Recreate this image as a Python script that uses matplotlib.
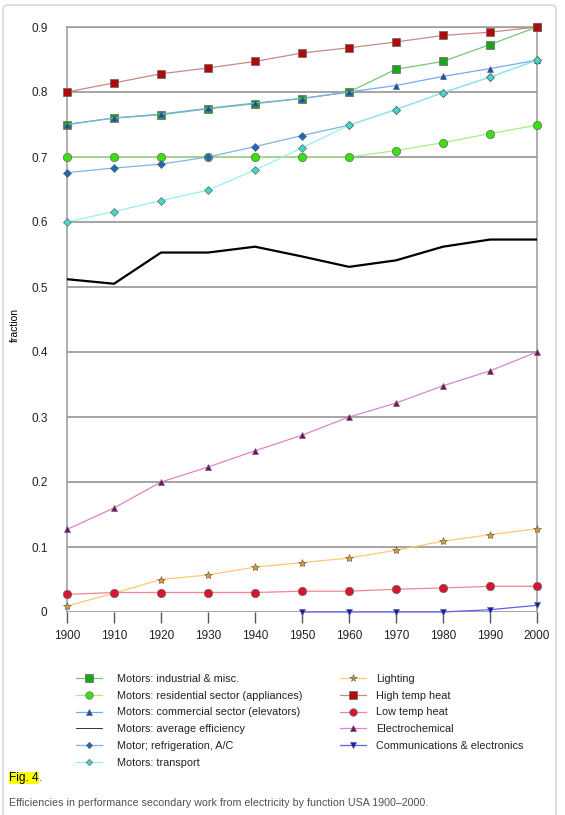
import matplotlib
matplotlib.use("Agg")
import matplotlib.pyplot as plt
from matplotlib.patches import FancyBboxPatch
from matplotlib.transforms import IdentityTransform

plt.rcParams["font.family"] = ["Liberation Sans", "DejaVu Sans"]

W, H = 565, 815

years = [1900, 1910, 1920, 1930, 1940, 1950, 1960, 1970, 1980, 1990, 2000]
comm_years = [1950, 1960, 1970, 1980, 1990, 2000]

industrial = [0.75, 0.76, 0.765, 0.774, 0.782, 0.79, 0.80, 0.835, 0.847, 0.873, 0.90]
residential = [0.70, 0.70, 0.70, 0.70, 0.70, 0.70, 0.70, 0.710, 0.722, 0.736, 0.749]
commercial = [0.75, 0.76, 0.766, 0.775, 0.783, 0.79, 0.80, 0.81, 0.824, 0.836, 0.849]
avg_eff = [0.512, 0.505, 0.553, 0.553, 0.562, 0.547, 0.531, 0.541, 0.562, 0.573, 0.573]
refrig = [0.676, 0.683, 0.689, 0.70, 0.716, 0.733, 0.749, 0.773, 0.799, 0.823, 0.849]
transport = [0.60, 0.616, 0.633, 0.649, 0.680, 0.714, 0.749, 0.773, 0.799, 0.823, 0.849]
lighting = [0.009, 0.029, 0.05, 0.057, 0.069, 0.076, 0.083, 0.095, 0.109, 0.119, 0.128]
high_heat = [0.80, 0.814, 0.828, 0.837, 0.847, 0.860, 0.868, 0.877, 0.887, 0.892, 0.90]
low_heat = [0.027, 0.030, 0.030, 0.030, 0.030, 0.032, 0.032, 0.035, 0.037, 0.0395, 0.0395]
electrochem = [0.127, 0.160, 0.20, 0.223, 0.248, 0.272, 0.30, 0.3215, 0.348, 0.371, 0.40]
comms = [0.0, 0.0, 0.0, 0.0, 0.0035, 0.0103]

yticks = [0, 0.1, 0.2, 0.3, 0.4, 0.5, 0.6, 0.7, 0.8, 0.9]
ytick_labels = ["0", "0.1", "0.2", "0.3", "0.4", "0.5", "0.6", "0.7", "0.8", "0.9"]

# (label, x, y, line colour, marker, marker face, marker size)
left_series = [
    ("Motors: industrial & misc.", years, industrial, "#74c874", "s", "#1aa51a", 6),
    ("Motors: residential sector (appliances)", years, residential, "#a4f084", "o", "#3ce010", 6),
    ("Motors: commercial sector (elevators)", years, commercial, "#74acf0", "^", "#0a4fc0", 5),
    ("Motors: average efficiency", years, avg_eff, "black", None, None, 0),
    ("Motor; refrigeration, A/C", years, refrig, "#80b4e8", "D", "#1a68c0", 3.6),
    ("Motors: transport", years, transport, "#94f2ee", "D", "#40d8c8", 3.6),
]
right_series = [
    ("Lighting", years, lighting, "#ffc870", "*", "#f09a10", 6),
    ("High temp heat", years, high_heat, "#cc8686", "s", "#b00a0a", 6),
    ("Low temp heat", years, low_heat, "#f08494", "o", "#d81530", 6),
    ("Electrochemical", years, electrochem, "#dc84cc", "^", "#7a0a64", 5),
    ("Communications & electronics", comm_years, comms, "#6060f0", "v", "#1414d0", 5),
]

fig = plt.figure(figsize=(W / 100, H / 100), dpi=100)
ax = fig.add_axes([67 / W, 1 - 612 / H, 470 / W, 585 / H])

# outer card
card = FancyBboxPatch((3, -30), 553, 840, boxstyle="round,pad=0,rounding_size=5",
                      transform=IdentityTransform(), fc="none", ec="#d8d8d8", lw=1.2)
fig.add_artist(card)

for y in yticks:
    ax.axhline(y, color="#8c8c8c", lw=1.1, zorder=1)

left_handles = []
for label, xs, ys, lc, mk, mf, ms in left_series:
    if mk is None:
        h, = ax.plot(xs, ys, color=lc, lw=1.6, zorder=3, label=label)
    else:
        h, = ax.plot(xs, ys, color=lc, lw=0.9, marker=mk, mfc=mf, mec="#666666",
                     mew=0.5, ms=ms, zorder=3, clip_on=False, label=label)
    left_handles.append(h)
right_handles = []
for label, xs, ys, lc, mk, mf, ms in right_series:
    z = 4 if label == "High temp heat" else 3
    h, = ax.plot(xs, ys, color=lc, lw=0.9, marker=mk, mfc=mf, mec="#666666",
                 mew=0.5, ms=ms, zorder=z, clip_on=False, label=label)
    right_handles.append(h)

ax.set_xlim(1900, 2000)
ax.set_ylim(0, 0.9)
ax.set_xticks(years)
ax.set_xticklabels([str(y) for y in years])
ax.set_yticks(yticks)
ax.set_yticklabels(ytick_labels)
ax.tick_params(axis="y", length=0, pad=14, labelsize=8.5, labelcolor="#222222")
ax.tick_params(axis="x", length=8, width=1, color="#555555", pad=5, labelsize=8.5,
               labelcolor="#222222")
for s in ["top", "left", "right"]:
    ax.spines[s].set_color("#9a9a9a")
    ax.spines[s].set_linewidth(1.1)
ax.spines["bottom"].set_visible(False)
ax.set_ylabel("fraction", fontsize=7.5)
ax.yaxis.set_label_coords(-(67 - 20) / 470, 0.49)

leg_kw = dict(frameon=False, fontsize=7.8, labelspacing=0.62, handlelength=2.4,
              borderpad=0, borderaxespad=0, numpoints=1, markerscale=0.9)
leg1 = fig.legend(handles=left_handles, loc="upper left",
                  bbox_to_anchor=(76 / W, 1 - 674 / H), handletextpad=1.4, **leg_kw)
leg2 = fig.legend(handles=right_handles, loc="upper left",
                  bbox_to_anchor=(340 / W, 1 - 674 / H), handletextpad=0.9, **leg_kw)
for t in leg1.get_texts() + leg2.get_texts():
    t.set_color("#222222")
# thin handle for the average-efficiency line, as in the original
leg1.get_lines()[3].set_linewidth(0.7)
leg1.get_lines()[3].set_color("#333333")

fig.text(9 / W, 1 - 778 / H, "Fig. 4", fontsize=8.6, va="center", color="black",
         bbox=dict(facecolor="#ffff00", edgecolor="none", pad=0.3))
fig.text(39 / W, 1 - 778 / H, ".", fontsize=8.6, va="center", color="#333333")
fig.text(9 / W, 1 - 803 / H,
         "Efficiencies in performance secondary work from electricity by function USA 1900\u20132000.",
         fontsize=7.7, va="center", color="#505050")

fig.savefig("out.png", dpi=100)
